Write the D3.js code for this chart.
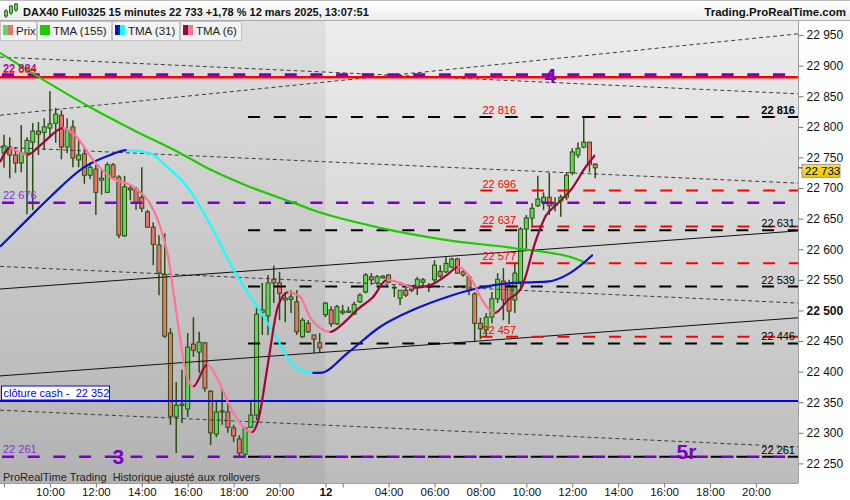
<!DOCTYPE html>
<html><head><meta charset="utf-8">
<script src="https://cdn.jsdelivr.net/npm/d3@7/dist/d3.min.js"></script>
<style>
html,body{margin:0;padding:0;background:#fff;}
svg{display:block;font-family:"Liberation Sans",Arial,Helvetica,sans-serif;}
</style></head><body>
<svg id="chart" width="850" height="500"></svg>
<script>
// ---------------- DATA ----------------
const opens=[22757,22767,22754,22741,22757,22775,22793,22791,22798,22806,
22819,22767,22800,22746,22756,22721,22731,22713,22693,22738,
22718,22622,22697,22698,22685,22661,22636,22607,22559,22463,
22326,22345,22339,22445,22432,22447,22368,22298,22334,22334,
22308,22290,22265,22309,22329,22497,22491,22551,22545,22517,
22518,22514,22457,22479,22460,22447,22493,22501,22478,22499,
22497,22494,22514,22530,22555,22545,22553,22558,22537,22520,
22533,22533,22538,22546,22538,22550,22564,22563,22571,22584,
22563,22555,22527,22479,22468,22489,22519,22548,22541,22517,
22546,22633,22651,22671,22677,22685,22672,22679,22685,22725,
22754,22767,22775,22739];
const closes=[22769,22754,22741,22757,22778,22793,22788,22800,22805,22821,
22767,22795,22749,22754,22721,22734,22693,22716,22738,22718,
22623,22702,22700,22675,22667,22636,22608,22561,22458,22327,
22345,22347,22440,22435,22448,22373,22300,22334,22336,22309,
22295,22267,22308,22329,22494,22501,22545,22545,22528,22520,
22522,22465,22484,22465,22453,22439,22512,22478,22506,22496,
22499,22510,22525,22558,22550,22555,22556,22546,22538,22533,
22525,22535,22551,22550,22539,22574,22556,22577,22584,22561,
22558,22533,22479,22470,22489,22519,22551,22517,22499,22561,
22633,22651,22667,22682,22685,22671,22675,22685,22721,22759,
22765,22775,22739,22733];
const highs=[22787,22783,22767,22803,22783,22806,22808,22814,22858,22831,
22827,22814,22811,22778,22765,22742,22738,22729,22742,22741,
22721,22720,22705,22702,22734,22664,22644,22623,22626,22471,
22383,22403,22463,22489,22465,22448,22370,22354,22373,22350,
22313,22296,22309,22354,22504,22545,22558,22573,22563,22530,
22533,22533,22488,22484,22460,22463,22514,22507,22509,22509,
22506,22514,22528,22561,22561,22558,22558,22559,22541,22533,
22537,22537,22555,22553,22545,22582,22574,22587,22586,22586,
22566,22558,22530,22488,22496,22530,22561,22569,22550,22577,
22636,22656,22675,22720,22693,22725,22685,22689,22726,22765,
22775,22816,22775,22741];
const lows=[22733,22716,22725,22726,22657,22664,22754,22762,22782,22774,
22747,22757,22734,22734,22707,22715,22656,22689,22692,22716,
22618,22620,22680,22664,22661,22635,22574,22525,22455,22313,
22267,22316,22326,22424,22398,22367,22280,22293,22313,22300,
22285,22260,22260,22308,22321,22460,22460,22512,22484,22481,
22496,22460,22455,22463,22430,22432,22489,22473,22476,22493,
22496,22493,22512,22528,22542,22542,22552,22545,22522,22509,
22522,22530,22525,22540,22530,22546,22553,22561,22569,22560,
22555,22525,22448,22453,22457,22479,22512,22484,22478,22496,
22533,22599,22635,22669,22664,22656,22662,22653,22680,22721,
22749,22765,22726,22716];

// moving averages: [bar index, price]
const tma155=[[-0.7,22921],[6.3,22880],[15,22832],[22.5,22795],[30.3,22759],[36.2,22729],
[42,22705],[50.7,22675],[53.8,22664],[65.5,22635],[77.2,22615],[88.7,22602],[99.1,22586],[101.7,22576]];
const tma31=[[-0.7,22604],[4,22648],[8,22685],[13.8,22733],[18.5,22754],[21.4,22762],[25.4,22757],
[28,22738],[32.1,22700],[36.2,22636],[40.2,22563],[43.7,22512],[46.7,22468],[50.7,22408],[53.8,22398],
[55.1,22398],[59.8,22430],[65.5,22473],[71.3,22501],[77.2,22522],[82.9,22537],[88.7,22545],[94.6,22547],
[98.6,22561],[102.6,22591]];
const tma6=[[-0.7,22742],[1,22765],[4,22754],[6.8,22774],[10.3,22798],[12.7,22783],[15.5,22746],
[18.5,22718],[22.5,22702],[25.4,22675],[26.8,22648],[28.6,22587],[30.3,22479],[31.9,22391],[33,22376],
[35.4,22412],[37.3,22386],[39.7,22337],[43.2,22301],[44.3,22321],[46,22414],[47.7,22506],[49.5,22530],
[51.6,22522],[53.3,22489],[55.6,22468],[56.8,22465],[59.1,22479],[61.5,22501],[64.3,22522],[66.7,22550],
[69,22545],[71.3,22537],[74.2,22541],[77.2,22558],[79.1,22571],[81.5,22550],[83.3,22517],[85.5,22496],
[87.8,22517],[90.2,22538],[92.5,22610],[94.3,22653],[96.5,22675],[99,22700],[101.3,22734],[103,22754]];

const yTicks=[22250,22300,22350,22400,22450,22500,22550,22600,22650,22700,22750,22800,22850,22900,22950];
const xTickIdx=[0,8,16,24,32,40,48,56,59,67,75,83,91,99,107,115,123,131];
const xTickLab=["","10:00","12:00","14:00","16:00","18:00","20:00","12","","04:00","06:00","08:00","10:00","12:00","14:00","16:00","18:00","20:00"];
const dayBreakIdx=56;

const purpleLevels=[22885,22676,22261];
const purpleLabels=["22 884","22 676","22 261"];
const redSolidLevel=22881;
const cashLevel=22352;
const blackLevels=[22816,22631,22539,22446,22261];
const blackStartIdx=42;
const redLevels=[22816,22696,22637,22577,22457];
const redStartIdx=83;
const channel=[[[-0.7,22535],[138.33,22630]],[[-0.7,22393],[138.33,22488]]];
const dashedTrends=[[[-0.7,22819],[138.33,22952]],[[-0.7,22914],[138.33,22854]],
[[-0.7,22767],[138.33,22708]],[[-0.7,22572],[138.33,22512]],[[-0.7,22337],[138.33,22277]]];
const waveNames=["4","3","5r"];
const waveIdx=[95.2,19.9,118.9];
const wavePrice=[22884,22261,22261];
const lastPrice=22733;

// ---------------- CHART ----------------
const W=850,H=500, L=0,R=798,T=21,B=483;
const svg=d3.select("#chart");
const x=d3.scaleLinear().domain([-0.7,138.33]).range([L,R]);
const y=d3.scaleLinear().domain([22218,22973]).range([B,T]);
const loc=d3.formatLocale({decimal:",",thousands:" ",grouping:[3],currency:["",""]});
const fmt=loc.format(",.0f");

const defs=svg.append("defs");
const g1=defs.append("linearGradient").attr("id","bgR").attr("x1",0).attr("y1",0).attr("x2",0).attr("y2",1);
g1.append("stop").attr("offset","0").attr("stop-color","#ededed");
g1.append("stop").attr("offset","1").attr("stop-color","#bcbcbc");
const g2=defs.append("linearGradient").attr("id","bgL").attr("x1",0).attr("y1",0).attr("x2",0).attr("y2",1);
g2.append("stop").attr("offset","0").attr("stop-color","#e0e0e0");
g2.append("stop").attr("offset","1").attr("stop-color","#b2b2b2");
const g3=defs.append("linearGradient").attr("id","hdr").attr("x1",0).attr("y1",0).attr("x2",0).attr("y2",1);
g3.append("stop").attr("offset","0").attr("stop-color","#ffffff");
g3.append("stop").attr("offset","1").attr("stop-color","#ececec");
const g4=defs.append("linearGradient").attr("id","gold").attr("x1",0).attr("y1",0).attr("x2",0).attr("y2",1);
g4.append("stop").attr("offset","0").attr("stop-color","#ffe23a");
g4.append("stop").attr("offset","1").attr("stop-color","#f2c400");
defs.append("clipPath").attr("id","plotClip").append("rect").attr("x",L).attr("y",T).attr("width",R-L).attr("height",B-T);

// background
svg.append("rect").attr("x",0).attr("y",0).attr("width",W).attr("height",H).attr("fill","#fff");
svg.append("rect").attr("x",L).attr("y",T).attr("width",R-L).attr("height",B-T).attr("fill","url(#bgR)");
svg.append("rect").attr("x",L).attr("y",T).attr("width",x(dayBreakIdx)-L).attr("height",B-T).attr("fill","url(#bgL)");

const plot=svg.append("g").attr("clip-path","url(#plotClip)");

// candles
const idx=d3.range(opens.length);
const cg=plot.append("g");
cg.selectAll("line.w").data(idx).join("line").attr("class","w")
  .attr("x1",i=>x(i)).attr("x2",i=>x(i)).attr("y1",i=>y(highs[i])).attr("y2",i=>y(lows[i]))
  .attr("stroke","#2b4d12").attr("stroke-width",1.5);
cg.selectAll("rect.b").data(idx).join("rect").attr("class","b")
  .attr("x",i=>x(i)-2).attr("width",4)
  .attr("y",i=>y(Math.max(opens[i],closes[i])))
  .attr("height",i=>Math.max(1,Math.abs(y(opens[i])-y(closes[i]))))
  .attr("fill",i=>closes[i]>=opens[i]?"#5fd85a":"#e8756b")
  .attr("stroke","#2b4d12").attr("stroke-width",1);

// dashed thin trend lines
dashedTrends.forEach(s=>{
  plot.append("line").attr("x1",x(s[0][0])).attr("y1",y(s[0][1])).attr("x2",x(s[1][0])).attr("y2",y(s[1][1]))
    .attr("stroke","#3c3c3c").attr("stroke-width",1).attr("stroke-dasharray","4,3");
});
// channel solid lines
channel.forEach(s=>{
  plot.append("line").attr("x1",x(s[0][0])).attr("y1",y(s[0][1])).attr("x2",x(s[1][0])).attr("y2",y(s[1][1]))
    .attr("stroke","#111").attr("stroke-width",1);
});

// red solid level
plot.append("line").attr("x1",L).attr("x2",R).attr("y1",y(redSolidLevel)).attr("y2",y(redSolidLevel))
  .attr("stroke","#ff0000").attr("stroke-width",2.5);
// cash close
plot.append("line").attr("x1",L).attr("x2",R).attr("y1",y(cashLevel)).attr("y2",y(cashLevel))
  .attr("stroke","#0000ff").attr("stroke-width",2);
// red dashed levels
redLevels.forEach(v=>{
  plot.append("line").attr("x1",x(redStartIdx)).attr("x2",R).attr("y1",y(v)).attr("y2",y(v))
    .attr("stroke","#ff0000").attr("stroke-width",2).attr("stroke-dasharray","12,13.7");
});
// black dashed levels
blackLevels.forEach(v=>{
  plot.append("line").attr("x1",x(blackStartIdx)).attr("x2",R).attr("y1",y(v)).attr("y2",y(v))
    .attr("stroke","#000").attr("stroke-width",2).attr("stroke-dasharray","12,13.7").attr("stroke-dashoffset",-3);
});
// purple dashed levels
purpleLevels.forEach((v,k)=>{
  plot.append("line").attr("x1",L+2).attr("x2",R).attr("y1",y(v)).attr("y2",y(v))
    .attr("stroke","#7a00c8").attr("stroke-width",k===0?3:2.5).attr("stroke-dasharray","12,13.7");
});

// moving averages
const lineGen=d3.line().x(d=>x(d[0])).y(d=>y(d[1])).curve(d3.curveMonotoneX);
let clipN=0;
function drawMA(pts,up,down){
  const path=lineGen(pts);
  for(let k=0;k<pts.length-1;k++){
    const col=pts[k+1][1]>=pts[k][1]?up:down;
    const id="mac"+(clipN++);
    const x0=x(pts[k][0]),x1=x(pts[k+1][0]);
    defs.append("clipPath").attr("id",id).append("rect").attr("x",x0-0.3).attr("y",0).attr("width",x1-x0+0.6).attr("height",H);
    plot.append("g").attr("clip-path",`url(#${id})`).append("path").attr("d",path)
      .attr("fill","none").attr("stroke",col).attr("stroke-width",2.2).attr("stroke-linejoin","round");
  }
}
plot.append("path").attr("d",lineGen(tma155)).attr("fill","none").attr("stroke","#1ecb00").attr("stroke-width",2.2);
drawMA(tma31,"#0a14c8","#14ffff");
drawMA(tma6,"#9c0838","#ff7399");

// ---- texts on plot ----
const txt=svg.append("g");
purpleLevels.forEach((v,k)=>{
  if(k===0){
    txt.append("text").attr("x",3).attr("y",y(v)-3).attr("font-size",11).attr("fill","#7a00c8").text(purpleLabels[k]);
    txt.append("text").attr("x",3).attr("y",y(v)-2).attr("font-size",11).attr("fill","#ff0000").attr("opacity",0.85).text(fmt(redSolidLevel+3));
  } else {
    txt.append("text").attr("x",3).attr("y",y(v)-3.5).attr("font-size",11).attr("fill","#8a2be2").text(purpleLabels[k]);
  }
});
redLevels.forEach(v=>{
  txt.append("text").attr("x",x(redStartIdx)+2).attr("y",y(v)-3).attr("font-size",11).attr("fill","#ff0000").text(fmt(v));
});
blackLevels.forEach((v,k)=>{
  txt.append("text").attr("x",R-3).attr("y",y(v)-3).attr("text-anchor","end").attr("font-size",11)
    .attr("font-weight",k===0?"bold":"normal").attr("fill","#000").text(fmt(v));
});
waveNames.forEach((n,k)=>{
  txt.append("text").attr("x",x(waveIdx[k])).attr("y",y(wavePrice[k])+(k===2?2:7.5)).attr("text-anchor","middle")
    .attr("font-size",21).attr("font-weight","bold").attr("fill","#7a00c8").text(n);
});
const cashY=y(cashLevel);
txt.append("rect").attr("x",1.5).attr("y",cashY-15).attr("width",108).attr("height",14).attr("fill","#fff").attr("stroke","#0000ff").attr("stroke-width",1);
txt.append("text").attr("x",3.5).attr("y",cashY-4).attr("font-size",11).attr("fill","#0000ff").attr("xml:space","preserve").text("clôture cash -  "+fmt(cashLevel));
txt.append("text").attr("x",3).attr("y",480.5).attr("font-size",11).attr("fill","#222").attr("xml:space","preserve")
  .text("ProRealTime Trading  Historique ajusté aux rollovers");

// ---- axes ----
svg.append("line").attr("x1",R+0.5).attr("x2",R+0.5).attr("y1",T).attr("y2",B).attr("stroke","#a0a0a0");
svg.append("line").attr("x1",L).attr("x2",R).attr("y1",B+0.5).attr("y2",B+0.5).attr("stroke","#a0a0a0");
const yAx=svg.append("g").attr("transform",`translate(${R+0.5},0)`)
  .call(d3.axisRight(y).tickValues(yTicks).tickSize(5).tickPadding(3).tickFormat(fmt));
yAx.select(".domain").remove();
yAx.selectAll("line").attr("stroke","#777");
yAx.selectAll("text").attr("font-size",12).attr("fill","#111").attr("font-family","Liberation Sans, Arial, sans-serif")
  .attr("font-weight",d=>d===22500?"bold":"normal");
const xAx=svg.append("g").attr("transform",`translate(0,${B+0.5})`)
  .call(d3.axisBottom(x).tickValues(xTickIdx).tickSize(4).tickPadding(0).tickFormat((d,i)=>xTickLab[i]));
xAx.select(".domain").remove();
xAx.selectAll("line").attr("stroke","#777");
xAx.selectAll("text").attr("font-size",11.5).attr("fill","#111").attr("font-family","Liberation Sans, Arial, sans-serif")
  .attr("font-weight",(d,i)=>xTickLab[i]==="12"?"bold":"normal");

// last price box
const lp=y(lastPrice);
svg.append("rect").attr("x",R+4).attr("y",lp-3.5).attr("width",38).attr("height",13).attr("fill","url(#gold)").attr("stroke","#999");
svg.append("line").attr("x1",R).attr("x2",R+4).attr("y1",lp).attr("y2",lp).attr("stroke","#333");
svg.append("text").attr("x",R+7).attr("y",lp+7).attr("font-size",11.5).attr("fill","#000").text(fmt(lastPrice));

// ---- header ----
svg.append("rect").attr("x",0).attr("y",0).attr("width",W).attr("height",T).attr("fill","url(#hdr)");
svg.append("line").attr("x1",0).attr("x2",W).attr("y1",0.5).attr("y2",0.5).attr("stroke","#bbb");
svg.append("line").attr("x1",0).attr("x2",W).attr("y1",T-0.5).attr("y2",T-0.5).attr("stroke","#aaa");
const ic=svg.append("g");
[[6,11,15,8,13],[11,6,12,4,10],[16,4,9,2,7]].forEach(c=>{
  ic.append("line").attr("x1",c[0]).attr("x2",c[0]).attr("y1",c[3]+1).attr("y2",c[2]+3).attr("stroke","#2b4d12");
  ic.append("rect").attr("x",c[0]-1.5).attr("y",c[1]).attr("width",3).attr("height",c[4]-c[1]+3).attr("fill","#5fd85a").attr("stroke","#2b4d12").attr("stroke-width",0.8);
});
svg.append("text").attr("x",23).attr("y",16).attr("font-size",11).attr("font-weight","bold").attr("fill","#111")
  .text("DAX40 Full0325 15 minutes 22 733 +1,78 % 12 mars 2025, 13:07:51");
svg.append("text").attr("x",846).attr("y",16).attr("text-anchor","end").attr("font-size",11.5).attr("font-weight","bold").attr("fill","#111")
  .text("Trading.ProRealTime.com");

const leg=svg.append("g");
const legItems=[
  {x0:0,x1:37,label:"Prix",c:["#5fd85a","#e8756b"]},
  {x0:37,x1:112,label:"TMA (155)",c:["#1ecb00","#1ecb00"]},
  {x0:112,x1:180,label:"TMA (31)",c:["#0a14c8","#14ffff"]},
  {x0:180,x1:242,label:"TMA (6)",c:["#9c0838","#ff7399"]}
];
legItems.forEach(it=>{
  leg.append("rect").attr("x",it.x0+0.5).attr("y",T+0.5).attr("width",it.x1-it.x0-1).attr("height",19).attr("fill","#f3f3f3").attr("stroke","#c4c4c4");
  leg.append("rect").attr("x",it.x0+3).attr("y",T+4).attr("width",5).attr("height",10).attr("fill",it.c[0]);
  leg.append("rect").attr("x",it.x0+8).attr("y",T+4).attr("width",5).attr("height",10).attr("fill",it.c[1]);
  leg.append("text").attr("x",it.x0+16).attr("y",T+13.5).attr("font-size",11.5).attr("fill","#222").text(it.label);
});
</script></body></html>
